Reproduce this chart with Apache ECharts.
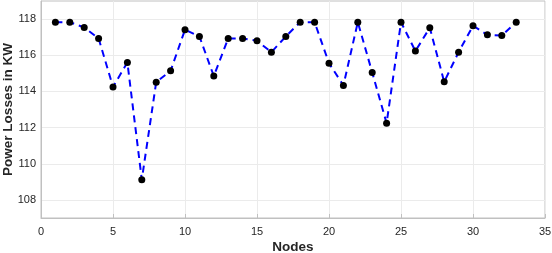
<!DOCTYPE html>
<html><head><meta charset="utf-8">
<script src="https://cdn.jsdelivr.net/npm/echarts@6/dist/echarts.min.js"></script>
<style>html,body{margin:0;padding:0;background:#fff}#c{width:552px;height:253px}</style>
</head><body><div id="c"></div>
<script>
const nodes = [1,2,3,4,5,6,7,8,9,10,11,12,13,14,15,16,17,18,19,20,21,22,23,24,25,26,27,28,29,30,31,32,33];
const losses = [117.83,117.83,117.54,116.93,114.25,115.6,109.12,114.51,115.14,117.41,117.04,114.85,116.93,116.93,116.8,116.17,117.04,117.83,117.83,115.56,114.33,117.83,115.05,112.24,117.83,116.23,117.52,114.53,116.17,117.63,117.13,117.09,117.83];
const yLabels = [108,110,112,114,116,118];
const xName = 'Nodes';
const yName = 'Power Losses in KW';

const chart = echarts.init(document.getElementById('c'), null, {renderer:'canvas'});
const font = 'Liberation Sans, Arial, Helvetica, sans-serif';
chart.setOption({
  animation:false,
  grid:{left:41,right:7,top:1,bottom:35,containLabel:false,outerBoundsMode:'none',
    show:true,borderColor:'#c0c0c0',borderWidth:1,backgroundColor:'transparent'},
  xAxis:{type:'value',min:0,max:35,interval:5,
    name:xName,nameLocation:'middle',nameGap:22,nameMoveOverlap:false,
    nameTextStyle:{fontFamily:font,fontSize:13.5,fontWeight:'bold',color:'#262626'},
    axisLine:{show:true,onZero:false,lineStyle:{color:'#c0c0c0',width:1}},
    axisTick:{show:true,inside:true,length:4,lineStyle:{color:'#c0c0c0'}},
    axisLabel:{fontFamily:font,fontSize:11,color:'#262626',margin:8},
    splitLine:{show:true,lineStyle:{color:'#ebebeb',width:1}}
  },
  yAxis:{type:'value',min:107,max:119,interval:1,
    name:yName,nameLocation:'middle',nameGap:26,nameMoveOverlap:false,
    nameTextStyle:{fontFamily:font,fontSize:13.5,fontWeight:'bold',color:'#262626'},
    axisLine:{show:true,lineStyle:{color:'#c0c0c0',width:1}},
    axisTick:{show:false},
    axisLabel:{fontFamily:font,fontSize:11,color:'#262626',margin:5,
      formatter:v=>yLabels.indexOf(v)>=0?String(v):''},
    splitLine:{show:true,lineStyle:{color:['rgba(0,0,0,0)','#ebebeb'],width:1}}
  },
  series:[{type:'line',data:nodes.map((n,i)=>[n,losses[i]]),
    symbol:'circle',symbolSize:7,
    itemStyle:{color:'#000'},
    lineStyle:{color:'#0000ff',width:2,type:[7,5]},
    z:3
  }]
});
</script></body></html>
